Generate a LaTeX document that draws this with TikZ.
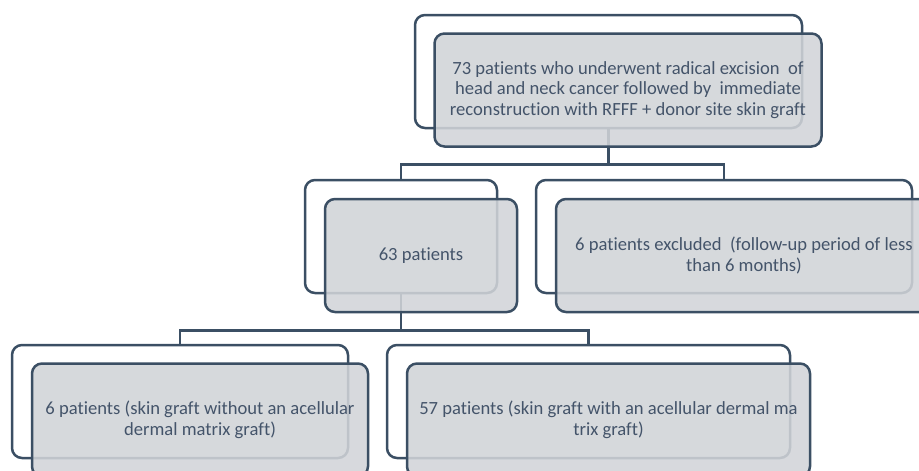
\documentclass[tikz,border=0pt]{standalone}
\usepackage{fontspec}
\setmainfont[Ligatures=NoCommon]{Carlito}
\definecolor{LineOrg}{RGB}{59,79,100}
\definecolor{FillOrg}{RGB}{209,212,216}
\definecolor{TextOrg}{RGB}{68,84,106}

\begin{document}
\begin{tikzpicture}[x=1pt, y=-1pt,
            backbox/.style={draw=LineOrg, line width=2.5pt, rounded corners=10pt, fill=white, minimum height=113pt, inner sep=0pt},
            frontbox/.style={draw=LineOrg, line width=2.5pt, rounded corners=10pt, fill=FillOrg, fill opacity=0.88, text opacity=1, text=TextOrg, minimum height=113pt, inner sep=0pt, align=center, font=\fontsize{18.6}{20.5}\selectfont},
            conn/.style={draw=LineOrg, line width=2.5pt}
        ]
            \clip (0,0) rectangle (919,471);
            % back boxes
            \node[backbox, minimum width=387pt] (topback)   at (608.5, 71.5) {};
            \node[backbox, minimum width=192pt] (midback)   at (401,  236.5) {};
            \node[backbox, minimum width=376pt] (exclback)  at (724,  236.5) {};
            \node[backbox, minimum width=336pt] (withoutback) at (180, 401.5) {};
            \node[backbox, minimum width=403pt] (withback)  at (588.5,401.5) {};
            % connectors
            \draw[conn] (topback.south) -- ++(0,35) -| (midback.north);
            \draw[conn] (topback.south) -- ++(0,35) -| (exclback.north);
            \draw[conn] (midback.south) -- ++(0,36) -| (withoutback.north);
            \draw[conn] (midback.south) -- ++(0,36) -| (withback.north);
            % front boxes
            \node[frontbox, minimum width=387pt] (top)     at (628,   90) {73 patients who underwent radical excision\ \ of\\head and neck cancer followed by\ \ immediate\\reconstruction with RFFF + donor site skin graft};
            \node[frontbox, minimum width=192pt] (mid)     at (421,  255.5) {63 patients};
            \node[frontbox, minimum width=376pt] (excl)    at (744,  255.5) {6 patients excluded\ \ (follow-up period of less\\than 6 months)};
            \node[frontbox, minimum width=336pt] (without) at (200,  420) {6 patients (skin graft without an acellular\\dermal matrix graft)};
            \node[frontbox, minimum width=403pt] (with)    at (608.5,420) {57 patients (skin graft with an acellular dermal ma\\trix graft)};
        \end{tikzpicture}
\end{document}
